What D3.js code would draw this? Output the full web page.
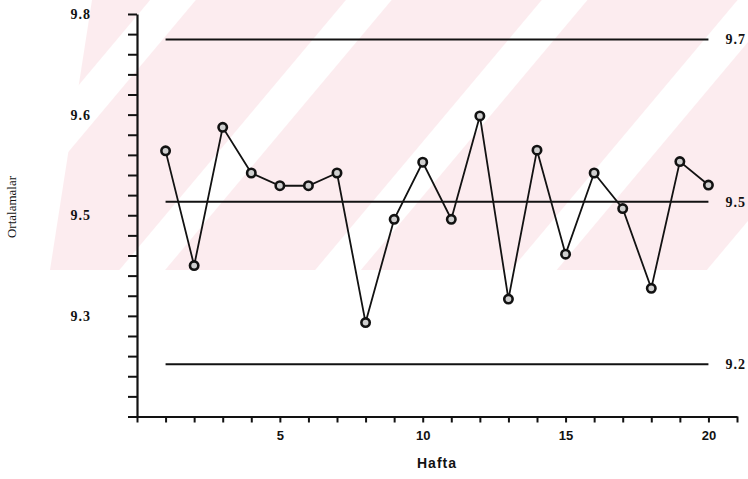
<!DOCTYPE html>
<html>
<head>
<meta charset="utf-8">
<script src="https://cdn.jsdelivr.net/npm/d3@7"></script>
<style>
  html, body { margin: 0; padding: 0; background: #ffffff; }
  svg { display: block; }
</style>
</head>
<body>
<svg id="chart" width="748" height="479"></svg>
<script>
// Weekly sample means (Hafta = week, Ortalamalar = means)
const weeks = [1, 2, 3, 4, 5, 6, 7, 8, 9, 10, 11, 12, 13, 14, 15, 16, 17, 18, 19, 20];
const means = [9.596, 9.425, 9.631, 9.563, 9.544, 9.544, 9.563, 9.340, 9.494, 9.579,
               9.494, 9.648, 9.375, 9.597, 9.442, 9.563, 9.510, 9.391, 9.580, 9.545];

// Control limits: upper, centre, lower
const limitNames = ["UCL", "CL", "LCL"];
const limitValues = [9.762, 9.520, 9.278];

// Axis ticks
const yTicks = [9.20, 9.23, 9.26, 9.29, 9.32, 9.35, 9.38, 9.41, 9.44, 9.47, 9.50,
                9.53, 9.56, 9.59, 9.62, 9.65, 9.68, 9.71, 9.74, 9.77, 9.80];
const yLabelTicks = [9.35, 9.50, 9.65, 9.80];
const xTicks = [0, 1, 2, 3, 4, 5, 6, 7, 8, 9, 10, 11, 12, 13, 14, 15, 16, 17, 18, 19, 20, 21];
const xLabelTicks = [5, 10, 15, 20];

const svg = d3.select("#chart");

// One-decimal labels, cut (not rounded) after the first decimal
const trunc1 = v => (Math.floor(v * 10 + 1e-6) / 10).toFixed(1);

const x = d3.scaleLinear().domain([0, 21]).range([137, 737]);
const y = d3.scaleLinear().domain([9.2, 9.8]).range([416.5, 14]);

// ---- faint pink background emblem ----
const defs = svg.append("defs");
const pat = defs.append("pattern")
  .attr("id", "stripes")
  .attr("patternUnits", "userSpaceOnUse")
  .attr("width", 150).attr("height", 20)
  .attr("patternTransform", "rotate(40)");
pat.append("rect").attr("width", 150).attr("height", 20).attr("fill", "#fcecef");
pat.append("rect").attr("x", 115).attr("width", 35).attr("height", 20).attr("fill", "#ffffff");

svg.append("polygon")
  .attr("points", [[50, 270], [748, 270], [748, 0], [92, 0]].map(p => p.join(",")).join(" "))
  .attr("fill", "url(#stripes)");

// ---- axes ----
const ink = "#121212";

const yAxis = d3.axisLeft(y)
  .tickValues(yTicks)
  .tickSize(9)
  .tickSizeOuter(0)
  .tickPadding(37)
  .tickFormat(v => yLabelTicks.some(t => Math.abs(t - v) < 1e-9) ? trunc1(v) : "");

const gy = svg.append("g")
  .attr("transform", `translate(${x(0)},0)`)
  .call(yAxis);
gy.select(".domain").attr("stroke", ink).attr("stroke-width", 2.2);
gy.selectAll(".tick line").attr("stroke", ink).attr("stroke-width", 2);
gy.selectAll(".tick text")
  .attr("fill", ink)
  .style("font-family", "'Liberation Serif', 'Times New Roman', serif")
  .style("font-weight", "bold")
  .style("font-size", "14px")
  .style("letter-spacing", "1px");

const xAxis = d3.axisBottom(x)
  .tickValues(xTicks)
  .tickSize(6)
  .tickSizeOuter(0)
  .tickPadding(8)
  .tickFormat(v => xLabelTicks.includes(v) ? String(v) : "");

const gx = svg.append("g")
  .attr("transform", `translate(0,${y(9.2)})`)
  .call(xAxis);
gx.select(".domain").attr("stroke", ink).attr("stroke-width", 2.2);
gx.selectAll(".tick line").attr("stroke", ink).attr("stroke-width", 2);
gx.selectAll(".tick text")
  .attr("fill", ink)
  .style("font-family", "'Liberation Sans', Arial, sans-serif")
  .style("font-weight", "bold")
  .style("font-size", "13px");

// Axis titles
svg.append("text")
  .attr("x", 437).attr("y", 468)
  .attr("text-anchor", "middle")
  .attr("fill", ink)
  .style("font-family", "'Liberation Sans', Arial, sans-serif")
  .style("font-weight", "bold")
  .style("font-size", "14px")
  .style("letter-spacing", "1px")
  .text("Hafta");

svg.append("text")
  .attr("transform", "translate(16,207) rotate(-90)")
  .attr("text-anchor", "middle")
  .attr("fill", ink)
  .style("font-family", "'Liberation Serif', 'Times New Roman', serif")
  .style("font-size", "13px")
  .text("Ortalamalar");

// ---- control limit lines ----
const limits = limitNames.map((n, i) => ({ name: n, value: limitValues[i] }));

svg.append("g").selectAll("line")
  .data(limits)
  .join("line")
  .attr("x1", x(weeks[0]))
  .attr("x2", x(weeks[weeks.length - 1]))
  .attr("y1", d => y(d.value))
  .attr("y2", d => y(d.value))
  .attr("stroke", ink)
  .attr("stroke-width", 2);

svg.append("g").selectAll("text")
  .data(limits)
  .join("text")
  .attr("x", x(weeks[weeks.length - 1]) + 17)
  .attr("y", d => y(d.value))
  .attr("dy", "0.35em")
  .attr("fill", ink)
  .style("font-family", "'Liberation Serif', 'Times New Roman', serif")
  .style("font-weight", "bold")
  .style("font-size", "14px")
  .style("letter-spacing", "1px")
  .text(d => trunc1(d.value));

// ---- series ----
const pts = weeks.map((w, i) => ({ week: w, value: means[i] }));

svg.append("path")
  .datum(pts)
  .attr("fill", "none")
  .attr("stroke", ink)
  .attr("stroke-width", 1.8)
  .attr("d", d3.line().x(d => x(d.week)).y(d => y(d.value)));

svg.append("g").selectAll("circle")
  .data(pts)
  .join("circle")
  .attr("cx", d => x(d.week))
  .attr("cy", d => y(d.value))
  .attr("r", 4.2)
  .attr("fill", "#cfcfcf")
  .attr("stroke", ink)
  .attr("stroke-width", 2.6);
</script>
</body>
</html>
